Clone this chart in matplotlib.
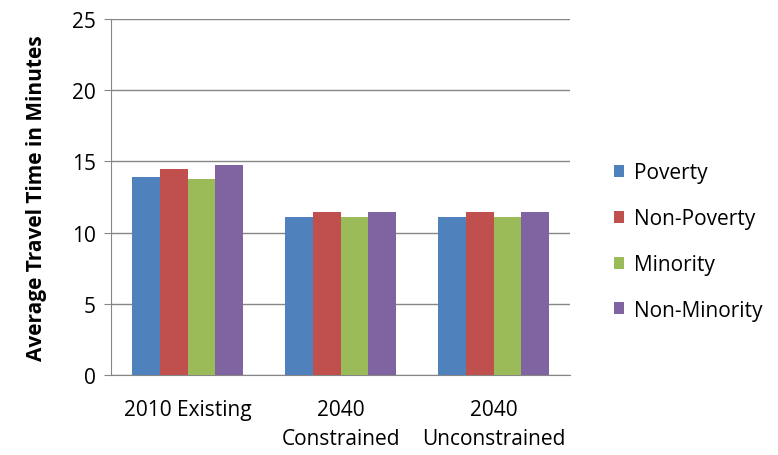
import matplotlib

matplotlib.use("Agg")
import matplotlib.pyplot as plt
import numpy as np

categories = ["2010 Existing", "2040\nConstrained", "2040\nUnconstrained"]
series_names = ["Poverty", "Non-Poverty", "Minority", "Non-Minority"]
poverty = [13.9, 11.1, 11.1]
non_poverty = [14.45, 11.45, 11.45]
minority = [13.8, 11.1, 11.1]
non_minority = [14.75, 11.45, 11.45]
colors = ["#4F81BD", "#C0504D", "#9BBB59", "#8064A2"]

plt.rcParams["font.family"] = ["Open Sans", "DejaVu Sans"]

fig = plt.figure(figsize=(7.78, 4.56), dpi=100)
ax = fig.add_axes([0.1427, 0.1754, 0.59, 0.7807])

x = np.arange(len(categories))
width = 0.181
values = [poverty, non_poverty, minority, non_minority]
for i, (name, vals, c) in enumerate(zip(series_names, values, colors)):
    ax.bar(x + (i - 1.5) * width, vals, width, color=c, label=name, zorder=3)

ax.set_xlim(-0.5, len(categories) - 0.5)
ax.set_ylim(0, 25)
ax.set_yticks(range(0, 26, 5))
ax.yaxis.grid(True, color="#868686", linewidth=1.0, zorder=0)
for s in ["top", "right"]:
    ax.spines[s].set_visible(False)
ax.spines["left"].set_color("#868686")
ax.spines["bottom"].set_color("#868686")
ax.tick_params(axis="y", length=5, color="#868686", labelsize=15, pad=6)
ax.tick_params(axis="x", length=0, labelsize=15, pad=17)
ax.set_xticks(x)
ax.set_xticklabels(categories, va="top", ha="center", linespacing=1.5)
ax.set_ylabel("Average Travel Time in Minutes", fontsize=15, fontweight="bold", labelpad=18)

ax.legend(loc="center left", bbox_to_anchor=(0.765, 0.468), bbox_transform=fig.transFigure,
          frameon=False, fontsize=15, handlelength=0.5, handleheight=0.5,
          handletextpad=0.45, labelspacing=1.19)

fig.savefig("out.png", dpi=100)
